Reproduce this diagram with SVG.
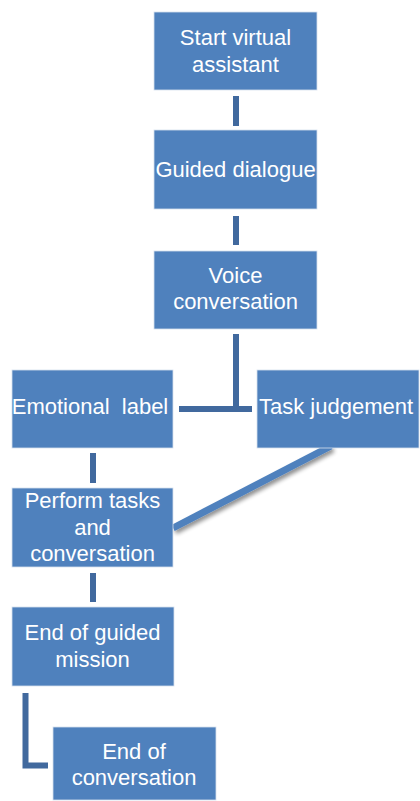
<svg xmlns="http://www.w3.org/2000/svg" width="420" height="801" viewBox="0 0 420 801">
  <style>
    .box { fill: #4F81BD; stroke: #D6E0EE; stroke-width: 0.8; }
    .label { fill: #FFFFFF; font-family: "Liberation Sans", Arial, sans-serif; font-size: 22px; text-anchor: middle; }
    .link { fill: none; stroke: #41699E; stroke-width: 6; }
    .slant { fill: none; stroke: #4F81BD; stroke-width: 7; stroke-linecap: butt; }
  </style>
  <defs>
    <filter id="shade" x="-20%" y="-20%" width="140%" height="160%">
      <feGaussianBlur in="SourceAlpha" stdDeviation="2"/>
      <feOffset dx="2" dy="3" result="blur"/>
      <feComponentTransfer><feFuncA type="linear" slope="0.45"/></feComponentTransfer>
      <feMerge><feMergeNode/><feMergeNode in="SourceGraphic"/></feMerge>
    </filter>
  </defs>

  <rect width="420" height="801" fill="#FFFFFF"/>

  <!-- connectors -->
  <g id="connectors">
    <line class="link" x1="236" y1="96" x2="236" y2="126"/>
    <line class="link" x1="236" y1="216" x2="236" y2="245"/>
    <polyline class="link" points="236,334 236,409"/>
    <line class="link" x1="179" y1="409" x2="252" y2="409"/>
    <line class="link" x1="93" y1="453" x2="93" y2="483"/>
    <line class="link" x1="93" y1="573" x2="93" y2="602"/>
    <polyline class="link" points="25.5,693 25.5,765.5 48,765.5"/>
    <line class="slant" filter="url(#shade)" x1="331" y1="446" x2="173" y2="528"/>
  </g>

  <g id="start">
    <rect class="box" x="154" y="12" width="163" height="78"/>
    <text class="label" x="235.5" y="45">Start virtual</text>
    <text class="label" x="235.5" y="72">assistant</text>
  </g>

  <g id="guided">
    <rect class="box" x="154" y="130" width="163" height="79"/>
    <text class="label" x="235.5" y="177">Guided dialogue</text>
  </g>

  <g id="voice">
    <rect class="box" x="154" y="251" width="163" height="78"/>
    <text class="label" x="235.5" y="283">Voice</text>
    <text class="label" x="235.5" y="309">conversation</text>
  </g>

  <g id="emotion">
    <rect class="box" x="12" y="370" width="161" height="78"/>
    <text class="label" x="90" y="414" xml:space="preserve">Emotional  label</text>
  </g>

  <g id="task">
    <rect class="box" x="257" y="370" width="162" height="78"/>
    <text class="label" x="336" y="414">Task judgement</text>
  </g>

  <g id="perform">
    <rect class="box" x="12" y="488" width="161" height="79"/>
    <text class="label" x="92.5" y="508">Perform tasks</text>
    <text class="label" x="92.5" y="535">and</text>
    <text class="label" x="92.5" y="561">conversation</text>
  </g>

  <g id="mission">
    <rect class="box" x="12" y="607" width="162" height="79"/>
    <text class="label" x="92.5" y="640">End of guided</text>
    <text class="label" x="92.5" y="667">mission</text>
  </g>

  <g id="finish">
    <rect class="box" x="53" y="727" width="163" height="73"/>
    <text class="label" x="134" y="759">End of</text>
    <text class="label" x="134" y="785">conversation</text>
  </g>
</svg>
